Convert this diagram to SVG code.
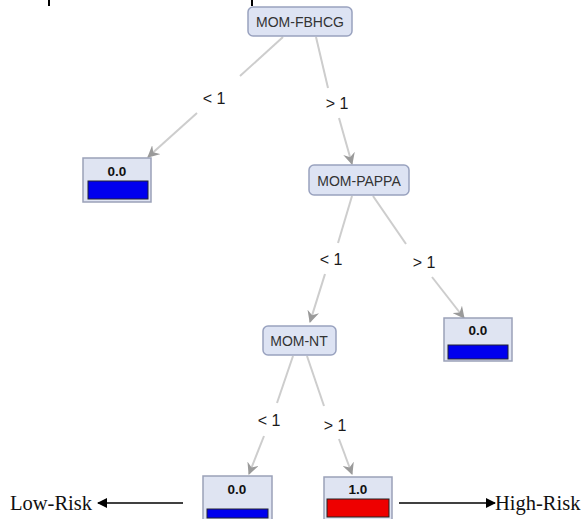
<svg xmlns="http://www.w3.org/2000/svg" width="585" height="519" viewBox="0 0 585 519">
<defs>
<marker id="ah" viewBox="0 0 12 12" refX="11" refY="6" markerWidth="12" markerHeight="12" markerUnits="userSpaceOnUse" orient="auto">
<path d="M0,0 L12,6 L0,12 L4,6 Z" fill="#9a9a9a"/>
</marker>
<marker id="bh" viewBox="0 0 10 10" refX="9" refY="5" markerWidth="11" markerHeight="10" markerUnits="userSpaceOnUse" orient="auto">
<path d="M0,0 L10,5 L0,10 Z" fill="#000"/>
</marker>
<style>
.e{stroke:#cdcdcd;stroke-width:2;fill:none}
.lb{font-family:"Liberation Sans",Arial,sans-serif;font-size:16px;fill:#1a1a1a;text-anchor:middle}
.nd{fill:#dde3f3;stroke:#99a2bf;stroke-width:1.5}
.nt{font-family:"Liberation Sans",Arial,sans-serif;font-size:14px;fill:#333;text-anchor:middle}
.lf{fill:#dfe4f2;stroke:#9ba1b8;stroke-width:1.5}
.lt{font-family:"Liberation Sans",Arial,sans-serif;font-size:13.5px;font-weight:bold;fill:#111;text-anchor:middle}
.risk{font-family:"Liberation Serif","Times New Roman",serif;font-size:20.5px;fill:#111}
</style>
</defs>
<rect width="585" height="519" fill="#fff"/>
<line x1="49" y1="0" x2="49" y2="6" stroke="#000" stroke-width="2"/>
<line x1="252" y1="0" x2="252" y2="6" stroke="#000" stroke-width="2"/>
<g id="connectors">
<path class="e" d="M283,37 L240,76"/>
<path class="e" d="M197,113 L148,157" marker-end="url(#ah)"/>
<path class="e" d="M316,37 L328,88"/>
<path class="e" d="M339,118 L352,164" marker-end="url(#ah)"/>
<path class="e" d="M352,196 L338,243"/>
<path class="e" d="M325,274 L310,322" marker-end="url(#ah)"/>
<path class="e" d="M373,196 L406,244"/>
<path class="e" d="M432,277 L464,318" marker-end="url(#ah)"/>
<path class="e" d="M293,356 L277,403"/>
<path class="e" d="M264,436 L249,474" marker-end="url(#ah)"/>
<path class="e" d="M307,356 L324,406"/>
<path class="e" d="M339,439 L352,474" marker-end="url(#ah)"/>
<text class="lb" x="214" y="104">&lt; 1</text>
<text class="lb" x="337" y="109">&gt; 1</text>
<text class="lb" x="331" y="265">&lt; 1</text>
<text class="lb" x="424" y="268">&gt; 1</text>
<text class="lb" x="269" y="426">&lt; 1</text>
<text class="lb" x="335" y="431">&gt; 1</text>
<line x1="183" y1="503" x2="98" y2="503" stroke="#000" stroke-width="1.5" marker-end="url(#bh)"/>
<line x1="399" y1="503" x2="495" y2="503" stroke="#000" stroke-width="1.5" marker-end="url(#bh)"/>
</g>
<g id="n-fbhcg">
<rect class="nd" x="248" y="7" width="104" height="29" rx="5"/>
<text class="nt" x="300" y="26.5">MOM-FBHCG</text>
</g>
<g id="leaf-1">
<rect class="lf" x="83" y="158" width="68" height="44"/>
<text class="lt" x="117" y="176">0.0</text>
<rect x="88" y="181" width="60" height="18" fill="#0000ee" stroke="#223" stroke-width="1"/>
</g>
<g id="n-pappa">
<rect class="nd" x="309" y="165" width="100" height="30" rx="5"/>
<text class="nt" x="359" y="185.5">MOM-PAPPA</text>
</g>
<g id="leaf-2">
<rect class="lf" x="444" y="318" width="68" height="43"/>
<text class="lt" x="478" y="335">0.0</text>
<rect x="448" y="345" width="60" height="14" fill="#0000ee" stroke="#223" stroke-width="1"/>
</g>
<g id="n-nt">
<rect class="nd" x="263" y="326" width="73" height="29" rx="5"/>
<text class="nt" x="299" y="345.5">MOM-NT</text>
</g>
<g id="leaf-3">
<rect class="lf" x="203" y="476" width="69" height="46"/>
<text class="lt" x="237" y="494">0.0</text>
<rect x="207" y="509" width="61" height="9" fill="#0000ee" stroke="#223" stroke-width="1"/>
</g>
<g id="leaf-4">
<rect class="lf" x="324" y="477" width="68" height="45"/>
<text class="lt" x="358" y="494">1.0</text>
<rect x="327" y="499" width="62" height="18" fill="#ee0000" stroke="#222" stroke-width="1"/>
</g>
<g id="labels">
<text class="risk" x="10" y="510">Low-Risk</text>
<text class="risk" x="495" y="510">High-Risk</text>
</g>
</svg>
